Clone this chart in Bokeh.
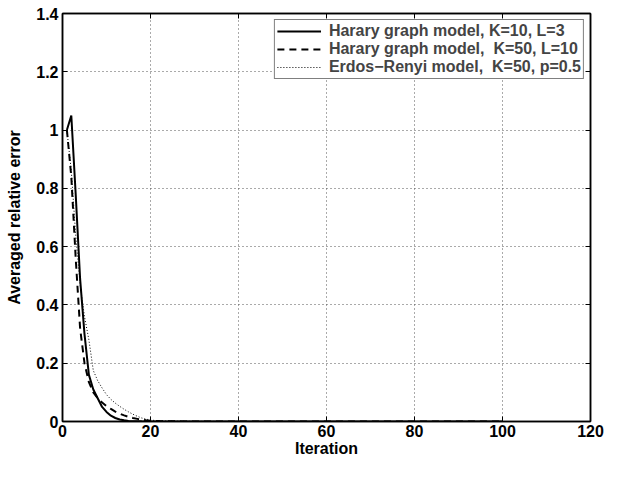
from bokeh.plotting import figure
from bokeh.models import LinearAxis, Range1d, FixedTicker
from bokeh.embed import file_html
from bokeh.resources import INLINE

# ---- data ----
iter_k10 = [1, 2, 3, 4, 5, 6, 7, 8, 9, 10, 11, 12, 13, 14, 15, 16, 18, 20, 30, 40, 50, 60, 70, 80, 90, 100]
err_k10 = [1.0, 1.05, 0.78, 0.49, 0.30, 0.16, 0.11, 0.08, 0.05, 0.033, 0.02, 0.012, 0.007, 0.004,
           0.002, 0.001, 0.0005, 0.0002, 0.0, 0.0, 0.0, 0.0, 0.0, 0.0, 0.0, 0.0]

iter_k50 = [1, 2, 3, 4, 5, 6, 7, 8, 9, 10, 11, 12, 13, 14, 15, 16, 17, 18, 19, 20, 22, 25, 30, 40,
            50, 60, 70, 80, 90, 100]
err_k50 = [1.0, 0.84, 0.56, 0.32, 0.20, 0.135, 0.10, 0.08, 0.065, 0.053, 0.043, 0.034, 0.027, 0.021,
           0.016, 0.012, 0.009, 0.006, 0.004, 0.003, 0.0015, 0.0005, 0.0002, 0.0, 0.0, 0.0, 0.0, 0.0,
           0.0, 0.0]

iter_er = [1, 2, 3, 4, 5, 6, 7, 8, 9, 10, 11, 12, 13, 14, 15, 16, 17, 18, 19, 20, 22, 25, 30, 40,
           50, 60, 70, 80, 90, 100, 106]
err_er = [1.0, 0.86, 0.64, 0.47, 0.36, 0.28, 0.175, 0.14, 0.115, 0.092, 0.076, 0.063, 0.052, 0.042,
          0.033, 0.025, 0.018, 0.012, 0.008, 0.005, 0.002, 0.001, 0.0003, 0.0, 0.0, 0.0, 0.0, 0.0,
          0.0, 0.0, 0.0]

legend_labels = [
    "Harary graph model, K=10, L=3",
    "Harary graph model,  K=50, L=10",
    "Erdos\u2212Renyi model,  K=50, p=0.5",
]

x_ticks = [0, 20, 40, 60, 80, 100, 120]
y_ticks = [0, 0.2, 0.4, 0.6, 0.8, 1.0, 1.2, 1.4]
y_tick_labels = ["0", "0.2", "0.4", "0.6", "0.8", "1", "1.2", "1.4"]

FONT = "Liberation Sans"
FS = "16px"

p = figure(width=605, height=461, output_backend="svg", toolbar_location=None,
           x_range=Range1d(0, 120), y_range=Range1d(0, 1.4),
           min_border_left=62, min_border_right=15, min_border_top=13, min_border_bottom=40)

p.background_fill_color = "white"
p.border_fill_color = "white"
p.outline_line_color = "black"
p.outline_line_width = 1.5

for ax in (p.xaxis[0], p.yaxis[0]):
    ax.axis_line_width = 1.5
    ax.axis_line_color = "black"
    ax.major_tick_in = 5
    ax.major_tick_out = 0
    ax.major_tick_line_color = "black"
    ax.minor_tick_line_color = None
    ax.major_label_text_font = FONT
    ax.major_label_text_font_style = "bold"
    ax.major_label_text_font_size = FS
    ax.major_label_text_color = "black"
    ax.axis_label_text_font = FONT
    ax.axis_label_text_font_style = "bold"
    ax.axis_label_text_font_size = FS
    ax.axis_label_text_color = "black"

p.xaxis[0].ticker = FixedTicker(ticks=x_ticks)
p.yaxis[0].ticker = FixedTicker(ticks=y_ticks)
p.yaxis[0].major_label_overrides = {t: s for t, s in zip(y_ticks, y_tick_labels)}
p.xaxis[0].axis_label = "Iteration"
p.yaxis[0].axis_label = "Averaged relative error"
p.xaxis[0].major_label_standoff = 3
p.xaxis[0].axis_label_standoff = 0
p.yaxis[0].major_label_standoff = 4
p.yaxis[0].axis_label_standoff = 10

# box ticks on top and right (labels not painted)
top = LinearAxis(ticker=FixedTicker(ticks=x_ticks), major_label_text_font_size="1px",
                 major_label_text_color=None,
                 major_tick_in=5, major_tick_out=0, minor_tick_line_color=None,
                 axis_line_width=1.5, major_label_standoff=0)
right = LinearAxis(ticker=FixedTicker(ticks=y_ticks), major_label_text_font_size="1px",
                   major_label_text_color=None,
                   major_tick_in=5, major_tick_out=0, minor_tick_line_color=None,
                   axis_line_width=1.5, major_label_standoff=0)
p.add_layout(top, "above")
p.add_layout(right, "right")

for g in (p.xgrid[0], p.ygrid[0]):
    g.grid_line_color = "#555555"
    g.grid_line_dash = "1 3"
    g.grid_line_width = 1
p.xgrid[0].ticker = FixedTicker(ticks=x_ticks)
p.ygrid[0].ticker = FixedTicker(ticks=y_ticks)

p.line(iter_k10, err_k10, line_color="black", line_width=2, legend_label=legend_labels[0])
p.line(iter_k50, err_k50, line_color="black", line_width=2, line_dash="7 5", legend_label=legend_labels[1])
p.line(iter_er, err_er, line_color="black", line_width=1, line_dash="1 2", legend_label=legend_labels[2])

lg = p.legend[0]
lg.location = "top_right"
lg.border_line_color = "black"
lg.border_line_width = 1
lg.background_fill_color = "white"
lg.background_fill_alpha = 1
lg.label_text_font = FONT
lg.label_text_font_style = "bold"
lg.label_text_font_size = "16px"
lg.glyph_width = 44
lg.label_standoff = 8
lg.padding = 2
lg.spacing = 0
lg.label_height = 18
lg.glyph_height = 18
lg.margin = 6

open("out.html", "w").write(file_html(p, INLINE))
